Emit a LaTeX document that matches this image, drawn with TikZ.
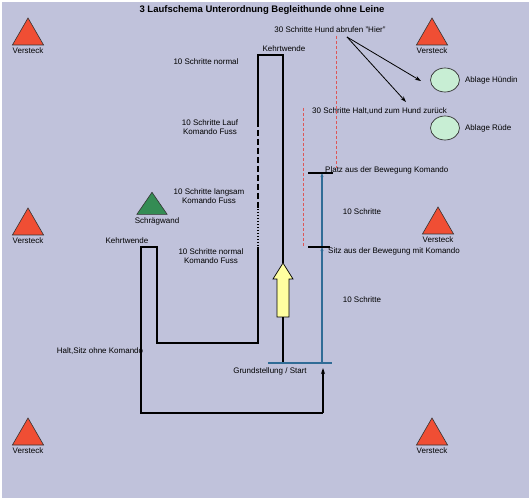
\documentclass[tikz,border=0pt]{standalone}
\usepackage{fontspec}
\setmainfont{Liberation Sans}
\usetikzlibrary{arrows.meta, positioning, shapes.geometric}

\definecolor{paper}{RGB}{192,194,219}
\definecolor{hidered}{RGB}{240,78,52}
\definecolor{wallgreen}{RGB}{52,140,84}
\definecolor{spotgreen}{RGB}{200,238,212}
\definecolor{trackblue}{RGB}{48,108,150}
\definecolor{guidered}{RGB}{222,86,86}
\definecolor{arrowyellow}{RGB}{255,255,160}

\begin{document}
\begin{tikzpicture}[x=1pt, y=-1pt,
            txt/.style={font=\fontsize{8}{9}\selectfont, inner sep=1pt, align=center},
            hide/.style={regular polygon, regular polygon sides=3, draw=black!80, fill=hidered, minimum size=36pt, inner sep=0pt, line width=0.6pt},
            wall/.style={hide, fill=wallgreen, minimum size=35pt},
            spot/.style={ellipse, draw=black!80, fill=spotgreen, minimum width=29pt, minimum height=24pt, line width=0.7pt},
            walk/.style={line width=1.4pt, black},
            track/.style={line width=1.1pt, trackblue},
            tickmark/.style={line width=1.2pt, black},
            guide/.style={line width=0.9pt, guidered, dash pattern=on 3pt off 2pt},
            call/.style={line width=0.8pt, -{Stealth[length=6pt, width=4pt]}}]

            % Background sheet
            \fill[white] (0,0) rectangle (531,500);
            \fill[paper] (2,2) rectangle (529,498);

            % Title
            \node[font=\fontsize{9.5}{10}\selectfont\bfseries] (title) at (262,10) {3 Laufschema Unterordnung Begleithunde ohne Leine};

            % Hiding places (Versteck) round the field
            \node[hide] (vtl) at (28,36) {};
            \node[hide] (vtr) at (432,36) {};
            \node[hide] (vml) at (28,226) {};
            \node[hide] (vmr) at (438,225) {};
            \node[hide] (vbl) at (28,436) {};
            \node[hide] (vbr) at (432,436) {};
            \foreach \v in {vtl, vtr, vml, vmr, vbl, vbr}
                \node[txt, below=1.5pt of \v.south] (\v-lbl) {Versteck};

            % Slanted wall
            \node[wall, yscale=0.84, transform shape] (wall) at (152,207) {};
            \node[txt] (wall-lbl) at (157,221) {Schrägwand};

            % Down-stay places
            \node[spot] (huendin) at (445,80) {};
            \node[txt, right=4pt of huendin] (huendin-lbl) {Ablage Hündin};
            \node[spot] (ruede) at (445,128) {};
            \node[txt, right=4pt of ruede] (ruede-lbl) {Ablage Rüde};

            % Recall and halt
            \node[txt] (recall) at (330,30) {30 Schritte Hund abrufen "Hier"};
            \node[txt, anchor=west] (halt) at (311,111) {30 Schritte Halt,und zum Hund zurück};
            \coordinate (c0) at (347,37);
            \coordinate (c1) at (421,81);
            \coordinate (c2) at (406,102);
            \draw[call] (c0) -- (c1);
            \draw[call] (c0) -- (c2);
            \coordinate (r1a) at (336,36);
            \coordinate (r1b) at (336,168);
            \coordinate (r2a) at (303,108);
            \coordinate (r2b) at (303,247);
            \draw[guide] (r1a) -- (r1b);
            \draw[guide] (r2a) -- (r2b);

            % Corners of the walking route
            \coordinate (s0) at (283,363);
            \coordinate (tail) at (283,317);
            \coordinate (tip) at (283,263);
            \coordinate (tr) at (283,55);
            \coordinate (tl) at (258,55);
            \coordinate (l1) at (258,121);
            \coordinate (l2) at (258,209);
            \coordinate (l3) at (258,247);
            \coordinate (lb) at (258,343);
            \coordinate (sr) at (157,343);
            \coordinate (srt) at (157,247);
            \coordinate (slt) at (141,247);
            \coordinate (slb) at (141,413);
            \coordinate (br) at (323,413);
            \coordinate (goal) at (323,368);

            % Route: normal, Lauf, langsam, normal
            \draw[walk] (s0) -- (tail);
            \draw[walk] (tip) -- (tr) -- (tl) -- (l1);
            \draw[walk, dash pattern=on 6pt off 3pt] (l1) -- (l2);
            \draw[walk, dash pattern=on 1.5pt off 1.5pt] (l2) -- (l3);
            \draw[walk] (l3) -- (lb) -- (sr) -- (srt) -- (slt) -- (slb) -- (br);
            \draw[walk, line width=1.1pt, -{Stealth[length=6pt, width=4pt]}] (br) -- (goal);

            % Start direction arrow
            \draw[fill=arrowyellow, line width=0.7pt] (277,317) -- (277,279) -- (273,279) -- (tip) -- (293,279) -- (289,279) -- (289,317) -- cycle;

            % Blue track with positions
            \coordinate (g1) at (268,363);
            \coordinate (g2) at (332,363);
            \coordinate (b0) at (322,363);
            \coordinate (b1) at (322,247);
            \coordinate (b2) at (322,173);
            \draw[track, line width=1.6pt] (g1) -- (g2);
            \draw[track, -{Stealth[length=4pt, width=3pt]}] (b0) -- (b1);
            \draw[track, -{Stealth[length=4pt, width=3pt]}] (b1) -- (b2);
            \coordinate (k1w) at (308,173);
            \coordinate (k1e) at (333,173);
            \coordinate (k2w) at (308,247);
            \coordinate (k2e) at (330,247);
            \draw[tickmark] (k1w) -- (k1e);
            \draw[tickmark] (k2w) -- (k2e);

            % Labels along the route
            \node[txt] (kw1) at (284,49) {Kehrtwende};
            \node[txt] (n1) at (206,62) {10 Schritte normal};
            \node[txt] (n2) at (210,127) {10 Schritte Lauf\\Komando Fuss};
            \node[txt] (n3) at (209,196) {10 Schritte langsam\\Komando Fuss};
            \node[txt] (n4) at (211,256) {10 Schritte normal\\Komando Fuss};
            \node[txt] (kw2) at (127,241) {Kehrtwende};
            \node[txt] (stop) at (100,351) {Halt,Sitz ohne Komando};
            \node[txt] (start) at (270,371) {Grundstellung / Start};
            \node[txt, anchor=west] (platz) at (324,170) {Platz aus der Bewegung Komando};
            \node[txt, anchor=west] (sitz) at (327,251) {Sitz aus der Bewegung mit Komando};
            \node[txt] (s10a) at (362,212) {10 Schritte};
            \node[txt] (s10b) at (362,300) {10 Schritte};
        \end{tikzpicture}
\end{document}
